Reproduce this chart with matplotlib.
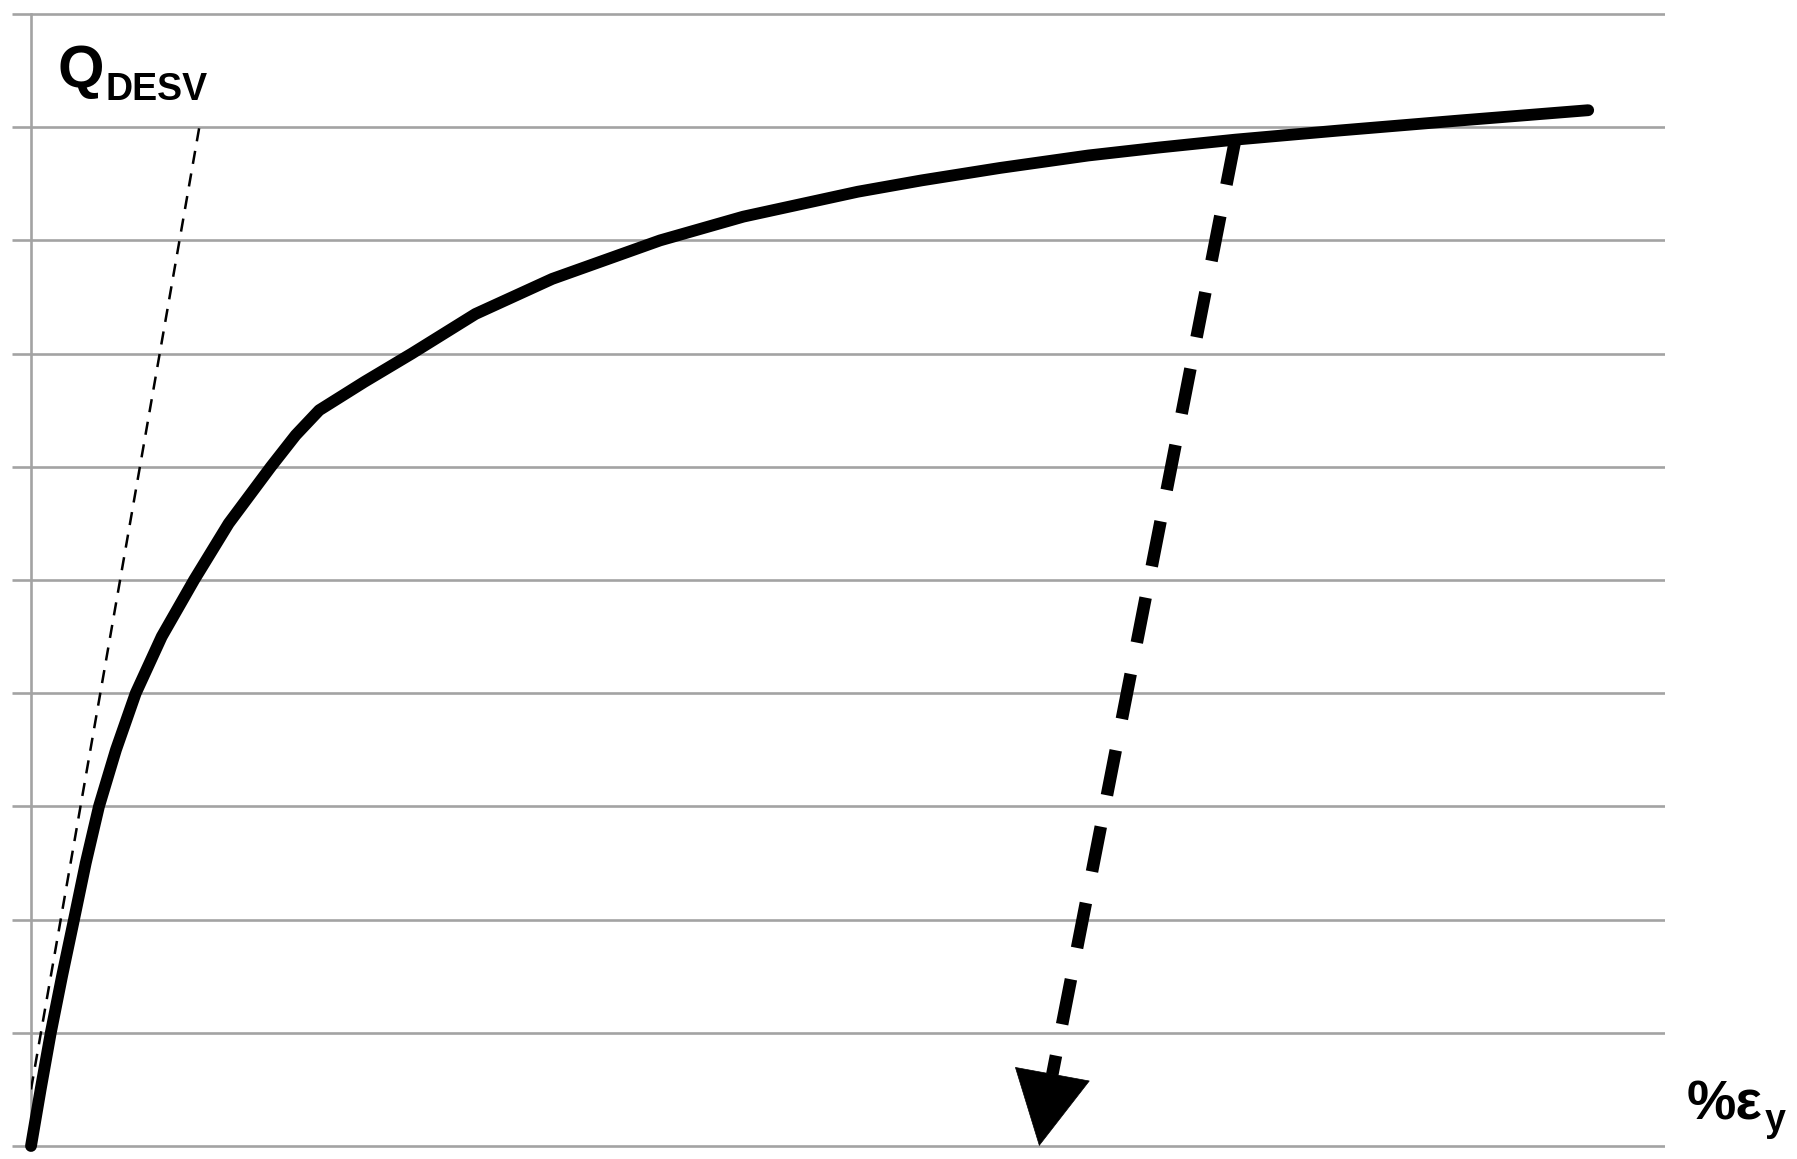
# Import libraries
import numpy as np
import matplotlib.pyplot as plt

plt.rcParams['font.family'] = ['Liberation Sans', 'DejaVu Sans']
plt.rcParams['lines.scale_dashes'] = False

# Load-strain curve (x in % of axis length, y in grid units)
strain = [0, 0.59, 1.21, 1.9, 2.63, 3.35, 4.16, 5.2, 6.41, 8.0, 9.98, 12.1,
          14.68, 16.2, 17.64, 20.4, 23.3, 27.2, 31.9, 38.5, 43.6, 50.6, 54.5,
          59.3, 64.7, 69.0, 73.7, 80.0, 87.5, 95.3]
load = [0, 0.5, 1.0, 1.5, 2.0, 2.5, 3.0, 3.5, 4.0, 4.5, 5.0, 5.5,
        6.0, 6.28, 6.5, 6.75, 7.0, 7.35, 7.66, 8.0, 8.21, 8.43, 8.53,
        8.64, 8.75, 8.82, 8.89, 8.97, 9.06, 9.15]

# Initial stiffness line (thin dashed)
stiff_x = [0, 10.3]
stiff_y = [0.5, 9.0]

# Unloading arrow: start on curve, head base, tip
unload_x = [73.7, 62.5, 61.7]
unload_y = [8.89, 0.63, 0.0]

grid_levels = list(range(0, 11))

W, H = 1797, 1159
fig = plt.figure(figsize=(W / 100, H / 100), dpi=100)
ax = fig.add_axes([31 / W, 1 - (1146 + 3.4) / H, (1665 - 31) / W, (1132 + 6.8) / H])
ax.set_xlim(0, 100)
ax.set_ylim(-0.03, 10.03)

grey = '#a3a3a3'
ax.set_yticks(grid_levels)
ax.set_yticklabels([])
ax.set_xticks([])
ax.yaxis.grid(True, color=grey, linewidth=1.9)
ax.tick_params(axis='y', length=13.7, width=1.9, color=grey, direction='out')
for side in ['top', 'right', 'bottom']:
    ax.spines[side].set_visible(False)
ax.spines['left'].set_color(grey)
ax.spines['left'].set_linewidth(1.9)
ax.spines['left'].set_bounds(0, 10)

# Thin dashed stiffness line
ax.plot(stiff_x, stiff_y, color='black', linewidth=1.8, dashes=(9.5, 7), zorder=3)

# Main curve
ax.plot(strain, load, color='black', linewidth=8.5, solid_capstyle='round',
        solid_joinstyle='round', clip_on=False, zorder=4)

# Dashed unloading shaft
ax.plot(unload_x[:2], unload_y[:2], color='black', linewidth=9, dashes=(33, 23),
        dash_capstyle='butt', zorder=4)
# Arrow head
ax.annotate('', xy=(unload_x[2], unload_y[2]), xytext=(unload_x[1], unload_y[1]),
            arrowprops=dict(arrowstyle='-|>,head_length=52,head_width=27',
                            mutation_scale=1, color='black', lw=0.5,
                            shrinkA=0, shrinkB=0), annotation_clip=False, zorder=5)

# Labels
fig.text(57 / W, 1 - 87 / H, 'Q', fontsize=43, fontweight='bold', va='baseline')
fig.text(105 / W, 1 - 100 / H, 'DESV', fontsize=27, fontweight='bold', va='baseline')
fig.text(1687 / W, 1 - 1120 / H, '%ε', fontsize=40, fontweight='bold', va='baseline')
fig.text(1765 / W, 1 - 1131 / H, 'y', fontsize=27, fontweight='bold', va='baseline')

plt.savefig('out.png', dpi=100)
